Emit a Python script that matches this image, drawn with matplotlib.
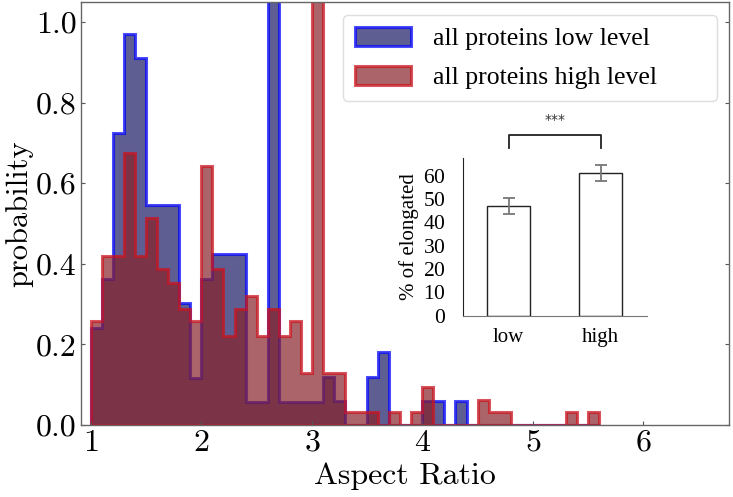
import numpy as np
import matplotlib
matplotlib.use("Agg")
import matplotlib.pyplot as plt

plt.rcParams['axes.formatter.use_mathtext'] = True
plt.rcParams['mathtext.fontset'] = 'cm'

# ---- data ----
bin_edges = np.round(np.arange(1.0, 5.61, 0.1), 2)
low_level = [0.241, 0.363, 0.725, 0.97, 0.91, 0.545, 0.545, 0.545, 0.304, 0.117,
             0.363, 0.424, 0.424, 0.424, 0.058, 0.058, 2.1, 0.058, 0.058, 0.058,
             0.058, 0.12, 0.06, 0.0, 0.0, 0.12, 0.18, 0.0, 0.0, 0.0,
             0.06, 0.06, 0.0, 0.06, 0.0, 0.0, 0.0, 0.0, 0.0, 0.0,
             0.0, 0.0, 0.0, 0.0, 0.0, 0.0]
high_level = [0.258, 0.42, 0.42, 0.676, 0.42, 0.514, 0.386, 0.353, 0.287, 0.258,
              0.644, 0.386, 0.222, 0.289, 0.32, 0.222, 0.289, 0.222, 0.258, 0.128,
              2.3, 0.128, 0.128, 0.031, 0.031, 0.031, 0.0, 0.031, 0.0, 0.031,
              0.095, 0.0, 0.0, 0.0, 0.0, 0.062, 0.031, 0.031, 0.0, 0.0,
              0.0, 0.0, 0.0, 0.031, 0.0, 0.031]
series_labels = ["all proteins low level", "all proteins high level"]

inset_categories = ["low", "high"]
inset_values = [47.0, 61.2]
inset_errors = [3.3, 3.4]
significance = "***"

# ---- figure ----
fig = plt.figure(figsize=(7.33, 4.97), dpi=100)
ax = fig.add_axes([0.1105, 0.1449, 0.884, 0.8511])

centers = (bin_edges[:-1] + bin_edges[1:]) / 2
ax.hist(centers, bins=bin_edges, weights=low_level, histtype='stepfilled',
        facecolor=(26/255, 26/255, 102/255, 0.7), edgecolor=(0, 0, 1, 0.7),
        linewidth=2.2, label=series_labels[0])
ax.hist(centers, bins=bin_edges, weights=high_level, histtype='stepfilled',
        facecolor=(136/255, 34/255, 41/255, 0.7), edgecolor=(0.8, 0.08, 0.12, 0.72),
        linewidth=2.2, label=series_labels[1])

ax.set_xlim(0.91, 6.776)
ax.set_ylim(0, 1.05)
ax.set_xticks([1, 2, 3, 4, 5, 6])
ax.set_yticks([0.0, 0.2, 0.4, 0.6, 0.8, 1.0])
ax.set_yticklabels(["0.0", "0.2", "0.4", "0.6", "0.8", "1.0"])
ax.tick_params(direction='in', length=3, width=0.8, color='#555555', pad=3,
               right=True)
for lab in ax.get_xticklabels() + ax.get_yticklabels():
    lab.set_fontfamily('cmr10')
    lab.set_fontsize(23)
for s in ax.spines.values():
    s.set_color('#666666')
    s.set_linewidth(1.0)
ax.set_xlabel("Aspect Ratio", fontfamily='cmr10', fontsize=23, labelpad=4)
ax.set_ylabel("probability", fontfamily='cmr10', fontsize=22, labelpad=2)

leg = ax.legend(loc='upper left', bbox_to_anchor=(0.4043, 0.773, 0.5772, 0.1963),
                mode='expand', borderaxespad=0,
                prop={'family': 'Liberation Serif', 'size': 18.5}, handlelength=2.2,
                handleheight=0.8, fancybox=True, framealpha=1, edgecolor='#dddddd',
                borderpad=0.45, labelspacing=0.6, handletextpad=0.85)

# ---- inset ----
ax2 = fig.add_axes([0.631, 0.3648, 0.2514, 0.3167])
xpos = np.arange(len(inset_categories))
ax2.bar(xpos, inset_values, width=0.47, color='white', edgecolor='#222222',
        linewidth=1.0, zorder=2)
ax2.errorbar(xpos, inset_values, yerr=inset_errors, fmt='none', ecolor='#777777',
             elinewidth=1.3, capsize=4, capthick=1.3, zorder=3)
ax2.set_xlim(-0.5, 1.5)
ax2.set_ylim(0, 67.5)
ax2.set_yticks([0, 10, 20, 30, 40, 50, 60])
ax2.set_xticks(xpos)
ax2.set_xticklabels(inset_categories)
ax2.tick_params(axis='x', length=0, pad=9)
ax2.tick_params(axis='y', length=0, pad=12)
for lab in ax2.get_xticklabels():
    lab.set_fontfamily('Liberation Serif')
    lab.set_fontsize(15)
for lab in ax2.get_yticklabels():
    lab.set_fontfamily('Liberation Serif')
    lab.set_fontsize(15.5)
ax2.set_ylabel("% of elongated", fontfamily='Liberation Serif', fontsize=15, labelpad=3)
ax2.spines['top'].set_visible(False)
ax2.spines['right'].set_visible(False)
ax2.spines['left'].set_color('#222222')
ax2.spines['bottom'].set_color('#777777')
ax2.patch.set_alpha(0)

# significance bracket
ax2.plot([xpos[0], xpos[0], xpos[1], xpos[1]], [72, 77.5, 77.5, 72],
         color='#222222', linewidth=1.3, clip_on=False)
ax2.text((xpos[0] + xpos[1]) / 2, 84, significance, ha='center', va='center',
         fontsize=10, fontfamily='DejaVu Sans', color='#333333', clip_on=False)

fig.savefig("out.png", dpi=100)
